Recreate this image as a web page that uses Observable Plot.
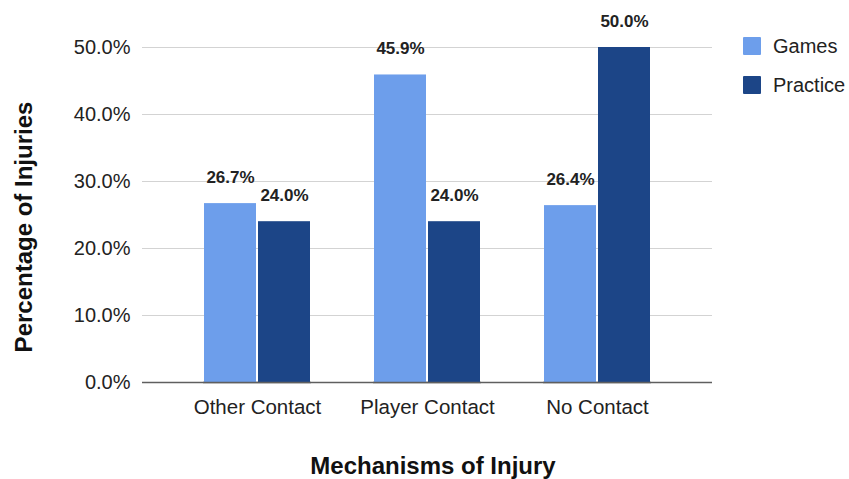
<!DOCTYPE html>
<html><head><meta charset="utf-8">
<script src="https://cdn.jsdelivr.net/npm/d3@7"></script>
<script src="https://cdn.jsdelivr.net/npm/@observablehq/plot@0.6"></script>
<style>
html,body{margin:0;padding:0;background:#fff;}
#wrap{position:relative;width:849px;height:479px;font-family:"Liberation Sans",Arial,sans-serif;color:#222;}
#wrap svg{position:absolute;left:0;top:0;}
.ytitle{position:absolute;left:24px;top:227px;transform:translate(-50%,-50%) rotate(-90deg);white-space:nowrap;font-size:24px;font-weight:bold;color:#111;}
.xtitle{position:absolute;left:433px;top:454px;transform:translateX(-50%);white-space:nowrap;font-size:24px;line-height:24px;font-weight:bold;color:#111;}
.legend{position:absolute;left:743px;top:37px;}
.legend .item{display:flex;align-items:center;height:18px;margin-bottom:21px;font-size:20px;color:#222;}
.legend .sw{width:18px;height:18px;border-radius:1px;margin-right:12px;}
</style></head><body><div id="wrap"></div>
<script>
const mechanisms = ["Other Contact", "Player Contact", "No Contact"];
const seriesNames = ["Games", "Practice"];
const gamesValues = [26.7, 45.9, 26.4];
const practiceValues = [24.0, 24.0, 50.0];
const yTicks = [0, 10, 20, 30, 40, 50];
const seriesColors = ["#6d9eeb", "#1c4587"];
const xTitle = "Mechanisms of Injury";
const yTitle = "Percentage of Injuries";

const data = mechanisms.flatMap((m, i) => [
  {mechanism: m, series: seriesNames[0], value: gamesValues[i]},
  {mechanism: m, series: seriesNames[1], value: practiceValues[i]}
]);
const fmt = d => d.toFixed(1) + "%";
const font = '"Liberation Sans", Arial, sans-serif';

const common = {
  width: 849, height: 479,
  marginLeft: 142, marginRight: 137, marginTop: 47, marginBottom: 97,
  style: {fontFamily: font, background: "transparent", overflow: "visible"},
  y: {domain: [0, 50], axis: null}
};
const bandPadding = {paddingInner: 0.3636, paddingOuter: 0.3533};

// Background: gridlines, axes (continuous across the whole frame)
const back = Plot.plot({
  ...common,
  x: {type: "band", domain: mechanisms, ...bandPadding, axis: null},
  marks: [
    Plot.ruleY(yTicks.filter(d => d > 0), {stroke: "#d3d3d3", strokeWidth: 1}),
    Plot.axisY({ticks: yTicks, tickFormat: fmt, tickSize: 0, tickPadding: 12, fontSize: 20, fill: "#222", label: null}),
    Plot.axisX({tickSize: 0, tickPadding: 17, fontSize: 20.5, fill: "#222", label: null}),
    Plot.ruleY([0], {stroke: "#5f5f5f", strokeWidth: 1.5})
  ]
});

// Foreground: grouped bars and value labels
const front = Plot.plot({
  ...common,
  fx: {domain: mechanisms, ...bandPadding, axis: null},
  x: {domain: seriesNames, paddingInner: 0.035, paddingOuter: 0, axis: null},
  color: {domain: seriesNames, range: seriesColors},
  marks: [
    Plot.barY(data, {fx: "mechanism", x: "series", y: "value", fill: "series"}),
    Plot.ruleY([0], {stroke: "#5f5f5f", strokeWidth: 1.5}),
    Plot.text(data, {fx: "mechanism", x: "series", y: "value", text: d => fmt(d.value), dy: -21, lineAnchor: "bottom", fontSize: 17, fontWeight: "bold", fill: "#222"})
  ]
});

const wrap = document.getElementById("wrap");
wrap.appendChild(back);
wrap.appendChild(front);

const yt = document.createElement("div"); yt.className = "ytitle"; yt.textContent = yTitle; wrap.appendChild(yt);
const xt = document.createElement("div"); xt.className = "xtitle"; xt.textContent = xTitle; wrap.appendChild(xt);
const lg = document.createElement("div"); lg.className = "legend";
seriesNames.forEach((s, i) => {
  const it = document.createElement("div"); it.className = "item";
  const sw = document.createElement("span"); sw.className = "sw"; sw.style.background = seriesColors[i];
  const tx = document.createElement("span"); tx.textContent = s;
  it.appendChild(sw); it.appendChild(tx); lg.appendChild(it);
});
wrap.appendChild(lg);
</script></body></html>
